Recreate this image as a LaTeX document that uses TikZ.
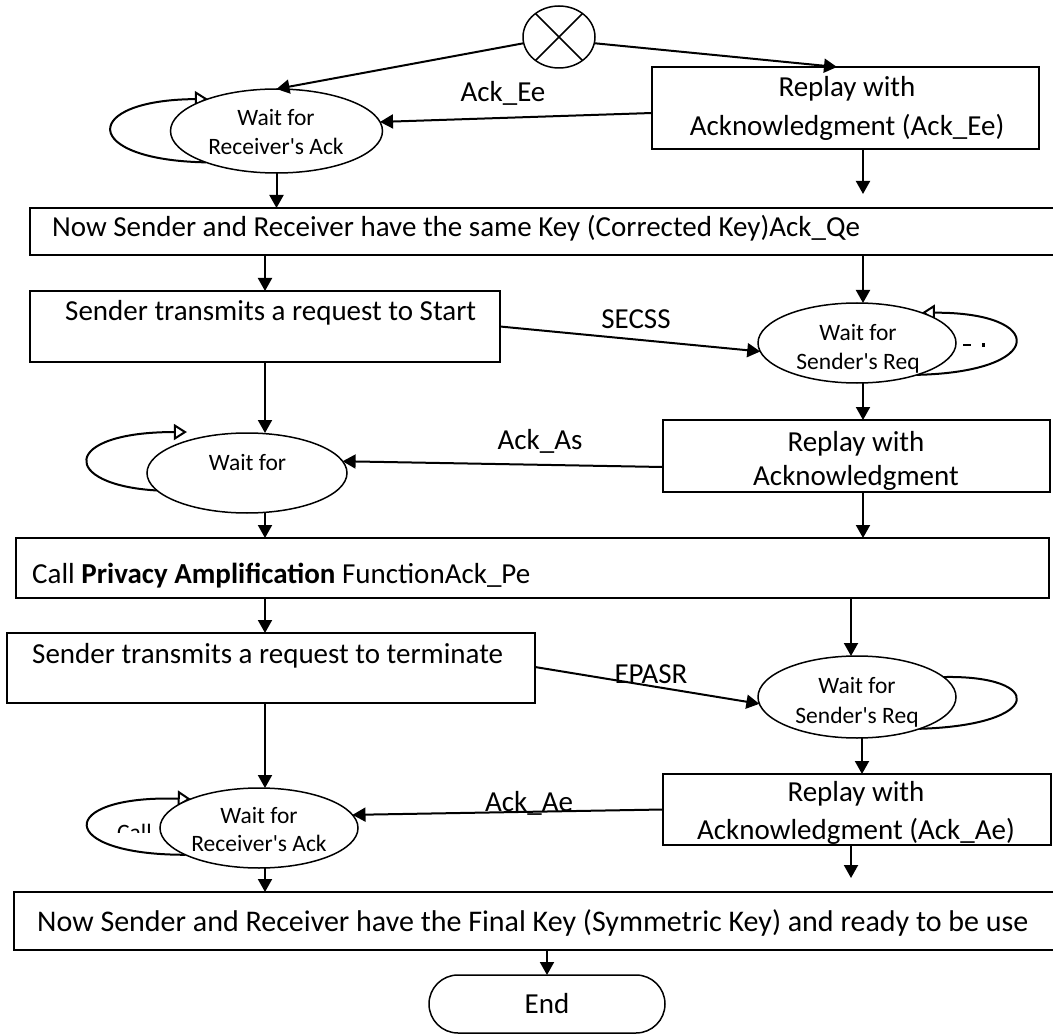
\documentclass[tikz,border=0pt]{standalone}
\usepackage{fontspec}
\setmainfont{Carlito}[Ligatures=TeXOff]
\usetikzlibrary{arrows.meta,shapes.geometric}
\pgfdeclarelayer{background}
\pgfsetlayers{background,main}

\tikzset{
  stepbox/.style={draw, rectangle, line width=1.6pt, inner sep=0pt, outer sep=0pt},
  waitnode/.style={draw, ellipse, line width=1.5pt, fill=white, inner sep=0pt, outer sep=0pt},
  junction/.style={draw, ellipse, line width=1.5pt, fill=white, inner sep=0pt, outer sep=0pt},
  terminal/.style={draw, rectangle, rounded corners=29pt, line width=1.5pt, inner sep=0pt, outer sep=0pt},
  boxtext/.style={inner sep=0pt, font=\fontsize{29}{36}\selectfont},
  widetext/.style={inner sep=0pt, font=\fontsize{30}{36}\selectfont},
  waittext/.style={inner sep=0pt, font=\fontsize{23.5}{29}\selectfont},
  edgelabel/.style={inner sep=0pt, font=\fontsize{29}{34}\selectfont},
  flow/.style={line width=2pt, -{Triangle[length=13pt,width=14pt]}},
  selfloop/.style={line width=2pt, -{Triangle[open,length=13pt,width=16pt,fill=white]}},
  plainloop/.style={line width=2pt},
}

\begin{document}
\begin{tikzpicture}[x=1pt,y=-1pt]
\useasboundingbox (0,0) rectangle (1053,1035);
\clip (0,0) rectangle (1053,1035);
\begin{pgfonlayer}{background}
  \fill[white] (0,0) rectangle (1053,1035);
\end{pgfonlayer}

% start junction
\node[junction, minimum width=72pt, minimum height=62pt] (start) at (559,37) {};
\draw[line width=1.5pt] (start.45) -- (start.225) (start.135) -- (start.315);

% process boxes
\node[stepbox, minimum width=387pt, minimum height=82pt] (ackEe) at (845.5,108) {};
\node[stepbox, minimum width=1030pt, minimum height=47pt] (samekey) at (545,231.5) {};
\node[stepbox, minimum width=470pt, minimum height=71pt] (reqstart) at (265,326.5) {};
\node[stepbox, minimum width=387pt, minimum height=72pt] (ackAs) at (856.5,456) {};
\node[stepbox, minimum width=1033pt, minimum height=60pt] (privacy) at (532.5,568) {};
\node[stepbox, minimum width=528pt, minimum height=70pt] (reqterm) at (271,668) {};
\node[stepbox, minimum width=388pt, minimum height=71pt] (ackAe) at (857,809.5) {};
\node[stepbox, minimum width=1046pt, minimum height=58pt] (finalkey) at (537,921) {};
\node[terminal, minimum width=236pt, minimum height=58pt] (end) at (547,1004) {};

% waiting states
\node[waitnode, minimum width=212pt, minimum height=84pt] (w1) at (276.5,131) {};
\node[waitnode, minimum width=198pt, minimum height=80pt] (w2) at (857,343) {};
\node[waitnode, minimum width=200pt, minimum height=80pt] (w3) at (247,473) {};
\node[waitnode, minimum width=198pt, minimum height=82pt] (w4) at (857,697) {};
\node[waitnode, minimum width=198pt, minimum height=80pt] (w5) at (259,828) {};

% box texts
\node[boxtext, anchor=base] (ackEe1) at (847,97) {Replay with};
\node[boxtext, anchor=base] (ackEe2) at (847,136) {Acknowledgment (Ack\_Ee)};
\node[boxtext, anchor=base west] (samekeyT) at (52,237) {Now Sender and Receiver have the same Key (Corrected Key)Ack\_Qe};
\node[boxtext, anchor=base west] (reqstartT) at (65,320) {Sender transmits a request to Start};
\node[boxtext, anchor=base] (ackAs1) at (856,451) {Replay with};
\node[boxtext, anchor=base] (ackAs2) at (856,485) {Acknowledgment};
\node[boxtext, anchor=base west] (privacyT) at (32,583) {Call \textbf{Privacy Amplification} FunctionAck\_Pe};
\node[boxtext, anchor=base west] (reqtermT) at (32,663) {Sender transmits a request to terminate};
\node[boxtext, anchor=base] (ackAe1) at (856,801) {Replay with};
\node[boxtext, anchor=base] (ackAe2) at (856,839) {Acknowledgment (Ack\_Ae)};
\node[widetext, anchor=base west] (finalkeyT) at (37,931) {Now Sender and Receiver have the Final Key (Symmetric Key) and ready to be use};
\node[boxtext, anchor=base] (endT) at (547,1013) {End};

% waiting state texts
\node[waittext, anchor=base] (w1a) at (276,126) {Wait for};
\node[waittext, anchor=base] (w1b) at (276,155) {Receiver's Ack};
\node[waittext, anchor=base] (w2a) at (858,341) {Wait for};
\node[waittext, anchor=base] (w2b) at (858,370) {Sender's Req};
\node[waittext, anchor=base] (w3a) at (247.5,470) {Wait for};
\node[waittext, anchor=base] (w4a) at (857,693) {Wait for};
\node[waittext, anchor=base] (w4b) at (857,723) {Sender's Req};
\node[waittext, anchor=base] (w5a) at (259,823) {Wait for};
\node[waittext, anchor=base] (w5b) at (259,851) {Receiver's Ack};

% message labels
\node[edgelabel, anchor=base] (lEe) at (503,102) {Ack\_Ee};
\node[edgelabel, anchor=base] (lSECSS) at (636,328) {SECSS};
\node[edgelabel, anchor=base] (lAs) at (540,449) {Ack\_As};
\node[edgelabel, anchor=base] (lEPASR) at (651,683) {EPASR};
\node[edgelabel, anchor=base] (lAe) at (529,811) {Ack\_Ae};

% free ends of the arrows that stop short
\coordinate (gapA) at (863,194);
\coordinate (gapB) at (851,878);

% flow arrows
\draw[flow] (start.190) -- (w1.north);
\draw[flow] (start.-10) -- ([xshift=-8.5pt]ackEe.north);
\draw[flow] ([yshift=-5pt]ackEe.west) -- (w1.5);
\draw[flow] (w1.south) -- (w1.south |- samekey.north);
\draw[flow] (gapA |- ackEe.south) -- (gapA);
\draw[flow] (reqstart.north |- samekey.south) -- (reqstart.north);
\draw[flow] ([xshift=6pt]w2.north |- samekey.south) -- ([xshift=6pt]w2.north);
\draw[flow] (reqstart.east) -- (w2.185);
\draw[flow] ([xshift=6pt]w2.south) -- ([xshift=6pt]w2.south |- ackAs.north);
\draw[flow] ([yshift=-11pt]ackAs.west) -- (w3.7);
\draw[flow] (reqstart.south) -- (reqstart.south |- w3.north);
\draw[flow] (reqstart.south |- w3.south) -- (reqstart.south |- privacy.north);
\draw[flow] ([xshift=6.5pt]ackAs.south) -- ([xshift=6.5pt]ackAs.south |- privacy.north);
\draw[flow] (reqstart.south |- privacy.south) -- (reqstart.south |- reqterm.north);
\draw[flow] ([xshift=-6pt]w4.north |- privacy.south) -- ([xshift=-6pt]w4.north);
\draw[flow] ([yshift=1pt]reqterm.east) -- (w4.184);
\draw[flow] ([xshift=5pt]w4.south) -- ([xshift=5pt]w4.south |- ackAe.north);
\draw[flow] (ackAe.west) -- (w5.8);
\draw[flow] (reqstart.south |- reqterm.south) -- (reqstart.south |- w5.north);
\draw[flow] (reqstart.south |- w5.south) -- (reqstart.south |- finalkey.north);
\draw[flow] (gapB |- ackAe.south) -- (gapB);
\draw[flow] (end.north |- finalkey.south) -- (end.north);

% self loops, drawn behind the states
\begin{pgfonlayer}{background}
  \draw[selfloop] (w1.204) .. controls (80,160) and (80,100) .. (w1.155);
  \draw[selfloop] (w2.-28) .. controls (1047,372) and (1047,312) .. (w2.25);
  \draw[selfloop] (w3.191) .. controls (60,485) and (60,432) .. ([yshift=9pt]w3.152);
  \draw[plainloop] (w4.-27) .. controls (1045,725) and (1045,675) .. (w4.13);
  \draw[selfloop] (w5.200) .. controls (55,855) and (55,795) .. (w5.157);
  % remnants of text partly hidden by the states
  \begin{scope}
    \clip (100,823) rectangle (170,832);
    \node[waittext, anchor=base west] (callbit) at (117,840) {Call};
  \end{scope}
  \fill (963,343.5) rectangle (971,345.5);
  \fill (982,342.5) rectangle (984.5,346.5);
\end{pgfonlayer}
\end{tikzpicture}
\end{document}
